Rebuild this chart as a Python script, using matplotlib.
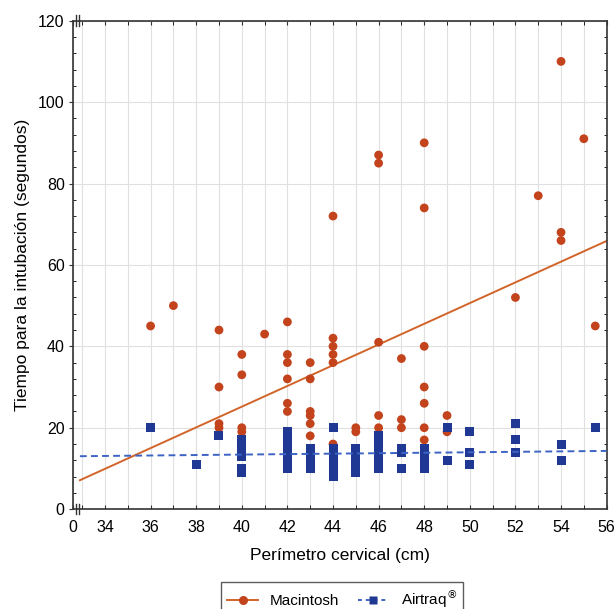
import matplotlib
matplotlib.use("Agg")
import matplotlib.pyplot as plt
import numpy as np
from matplotlib.ticker import MultipleLocator
from matplotlib.lines import Line2D

plt.rcParams['font.family'] = ['Liberation Sans', 'DejaVu Sans']

# Macintosh: neck circumference (cm) vs intubation time (s)
mac_x = [36, 37, 39, 39, 39, 39, 40, 40, 40, 40, 41,
         42, 42, 42, 42, 42, 42, 43, 43, 43, 43, 43, 43,
         44, 44, 44, 44, 44, 44, 45, 45, 46, 46, 46, 46, 46,
         47, 47, 47, 48, 48, 48, 48, 48, 48, 48, 49, 49,
         52, 53, 54, 54, 54, 55, 55.5]
mac_y = [45, 50, 44, 30, 21, 20, 38, 33, 20, 19, 43,
         46, 38, 36, 32, 26, 24, 36, 32, 24, 23, 21, 18,
         72, 42, 40, 38, 36, 16, 20, 19, 87, 85, 41, 23, 20,
         37, 22, 20, 90, 74, 40, 30, 26, 20, 17, 23, 19,
         52, 77, 110, 68, 66, 91, 45]

# Airtraq
air_x = [36, 38, 39,
         40, 40, 40, 40, 40, 40, 40,
         42, 42, 42, 42, 42, 42, 42, 42, 42, 42,
         43, 43, 43, 43, 43, 43,
         44, 44, 44, 44, 44, 44, 44, 44,
         45, 45, 45, 45, 45, 45,
         46, 46, 46, 46, 46, 46, 46, 46, 46,
         47, 47, 47,
         48, 48, 48, 48, 48, 48,
         49, 49, 50, 50, 50, 52, 52, 52, 54, 54, 55.5]
air_y = [20, 11, 18,
         17, 16, 15, 14, 13, 10, 9,
         19, 18, 17, 16, 15, 14, 13, 12, 11, 10,
         15, 14, 13, 12, 11, 10,
         20, 15, 14, 13, 12, 10, 9, 8,
         15, 14, 13, 12, 10, 9,
         18, 17, 16, 15, 14, 13, 12, 11, 10,
         15, 14, 10,
         15, 14, 13, 12, 11, 10,
         20, 12, 19, 14, 11, 21, 17, 14, 16, 12, 20]

# fitted lines (slope, intercept)
mac_fit = [2.545, -76.63]
air_fit = [0.0563, 11.15]
fit_range = [32.9, 56]

x_labels = ['0', '34', '36', '38', '40', '42', '44', '46', '48', '50', '52', '54', '56']

mac_color = '#c2431c'
mac_line = '#d2642a'
air_color = '#1f3893'
air_line = '#3d63c4'

fig = plt.figure(figsize=(6.14, 6.09), dpi=100)
ax = fig.add_axes([0.119, 0.164, 0.869, 0.802])

xmin, xmax = 32.6, 56
ax.set_xlim(xmin, xmax)
ax.set_ylim(0, 120)

xs = np.array(fit_range)
ax.plot(xs, np.polyval(mac_fit, xs), color=mac_line, lw=1.4, zorder=2)
ax.plot(xs, np.polyval(air_fit, xs), color=air_line, lw=1.4, ls=(0, (3.5, 2.2)), zorder=4)

ax.scatter(mac_x, mac_y, s=40, marker='o', color=mac_color, edgecolors='none', zorder=3)
ax.scatter(air_x, air_y, s=42, marker='s', color=air_color, edgecolors='none', zorder=3)

# ticks and grid
ax.set_xticks([xmin] + list(range(34, 57, 2)))
ax.set_xticklabels(x_labels)
ax.xaxis.set_minor_locator(MultipleLocator(1))
ax.set_yticks(range(0, 121, 20))
ax.yaxis.set_minor_locator(MultipleLocator(4))
ax.tick_params(axis='both', which='major', labelsize=11.5, color='#333333')
ax.tick_params(axis='x', which='both', direction='in', top=True, length=3, pad=8)
ax.tick_params(axis='y', which='major', direction='out', length=3, right=False, pad=3)
ax.tick_params(axis='y', which='minor', direction='in', length=2, right=True)
ax.grid(axis='x', which='both', color='#e0e0e0', lw=0.8, zorder=0)
ax.grid(axis='y', which='major', color='#e0e0e0', lw=0.8, zorder=0)
ax.set_axisbelow(True)
for s in ax.spines.values():
    s.set_color('#333333')
    s.set_linewidth(1.2)

# axis break marks
for bx in (32.75, 32.85):
    for by in (0, 120):
        ax.plot([bx, bx], [by - 1.3, by + 1.3], color='#333333', lw=1, clip_on=False, zorder=5)

ax.set_xlabel('Perímetro cervical (cm)', fontsize=12.5, labelpad=9)
ax.set_ylabel('Tiempo para la intubación (segundos)', fontsize=12.5, labelpad=6)

handles = [Line2D([], [], color=mac_line, lw=1.4, marker='o', markersize=6.5,
                  markerfacecolor=mac_color, markeredgecolor='none'),
           Line2D([], [], color=air_line, lw=1.4, ls=(0, (2, 2)), marker='s', markersize=6,
                  markerfacecolor=air_color, markeredgecolor='none')]
fig.legend(handles, ['Macintosh', 'Airtraq$^{\\circledR}$'], loc='upper center',
           bbox_to_anchor=(0.557, 0.045), borderaxespad=0, ncol=2, fontsize=11,
           frameon=True, fancybox=False, edgecolor='#333333', handlelength=2.0,
           columnspacing=1.2, borderpad=0.4)

fig.savefig('out.png', dpi=100)
